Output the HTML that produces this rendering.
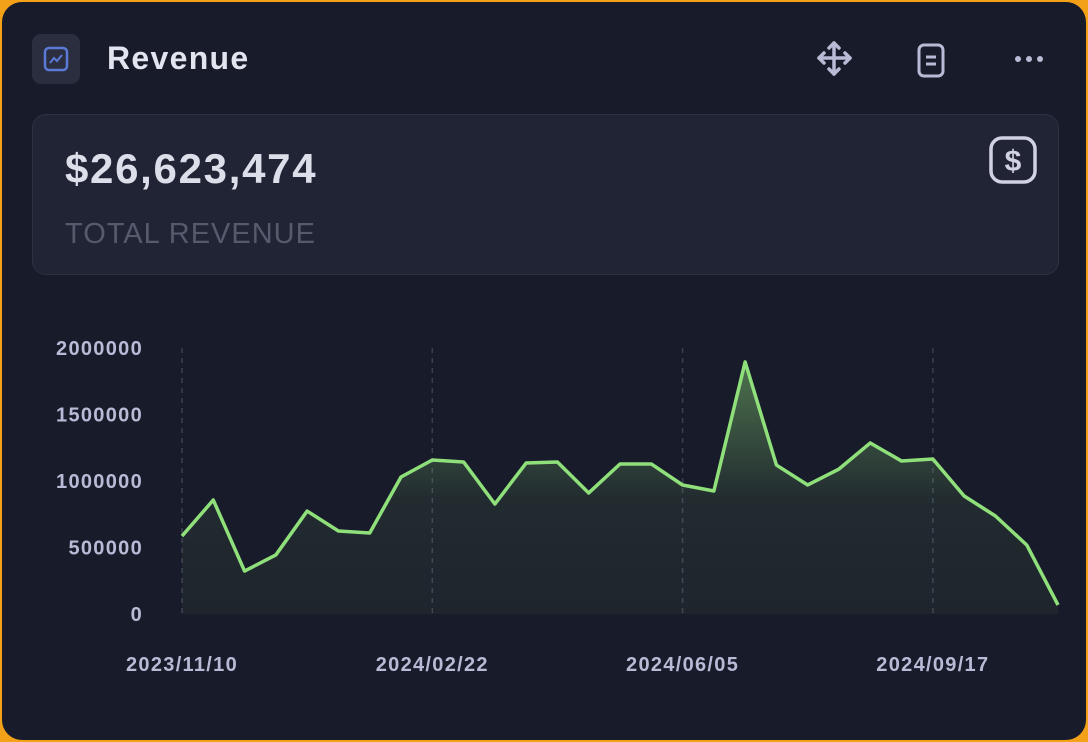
<!DOCTYPE html>
<html><head><meta charset="utf-8"><style>
html,body{margin:0;padding:0;width:1088px;height:742px;overflow:hidden;background:#f4a11a;font-family:"Liberation Sans",sans-serif}
.card{position:absolute;left:2px;top:2px;width:1084px;height:738px;border-radius:20px;background:#181b29;overflow:hidden}
.ic{position:absolute;left:30px;top:32px;width:48px;height:50px;border-radius:9px;background:#2a2e3f}
.title{position:absolute;left:105px;top:38px;font-size:32px;font-weight:bold;color:#e2e4ef;letter-spacing:1.3px}
.kpi{position:absolute;left:30px;top:112px;width:1025px;height:159px;border:1.5px solid #2d3142;border-radius:14px;background:#212435}
.val{position:absolute;left:32px;top:30px;font-size:42px;font-weight:bold;color:#dcdeea;letter-spacing:1.7px}
.lbl{position:absolute;left:32px;top:103px;font-size:29px;color:#565a6d;letter-spacing:1px}
svg text{font-family:"Liberation Sans",sans-serif;font-weight:bold;fill:#b8bad6;font-size:20px;letter-spacing:1.3px}
</style></head><body>
<div class="card">
<div class="ic">
<svg width="48" height="50"><rect x="13" y="14" width="22" height="22" rx="4" fill="none" stroke="#5b7ad8" stroke-width="2.5"/><polyline points="18,29 22,24 25,27 30,21" fill="none" stroke="#5b7ad8" stroke-width="2"/></svg></div>
<div class="title">Revenue</div>
<svg style="position:absolute;left:812px;top:36px" width="40" height="40"><g fill="none" stroke="#b8bad6" stroke-width="3.5" stroke-linecap="round" stroke-linejoin="round"><line x1="20" y1="5" x2="20" y2="36"/><line x1="5" y1="20" x2="36" y2="20"/><polyline points="15,10 20,5 25,10"/><polyline points="15,31 20,36 25,31"/><polyline points="10,15 5,20 10,25"/><polyline points="31,15 36,20 31,25"/></g></svg>
<svg style="position:absolute;left:914px;top:40px" width="30" height="38"><rect x="3" y="3" width="24" height="31" rx="5" fill="none" stroke="#b8bad6" stroke-width="3"/><line x1="10" y1="15" x2="20" y2="15" stroke="#b8bad6" stroke-width="3"/><line x1="10" y1="22" x2="20" y2="22" stroke="#b8bad6" stroke-width="3"/></svg>
<svg style="position:absolute;left:1010px;top:50px" width="36" height="14"><circle cx="6" cy="7" r="3" fill="#b8bad6"/><circle cx="17" cy="7" r="3" fill="#b8bad6"/><circle cx="28" cy="7" r="3" fill="#b8bad6"/></svg>
<div class="kpi">
<div class="val">$26,623,474</div>
<div class="lbl">TOTAL REVENUE</div>
<svg style="position:absolute;left:955px;top:20px" width="52" height="52"><rect x="3" y="3" width="44" height="44" rx="11" fill="none" stroke="#d0d2e2" stroke-width="3.5"/><text x="25" y="36" text-anchor="middle" style="font-size:30px;fill:#d0d2e2;font-weight:bold;letter-spacing:0">$</text></svg>
</div>
<svg id="chart" style="position:absolute;left:-2px;top:-2px" width="1088" height="742">
<defs><linearGradient id="g" x1="0" y1="0" x2="0" y2="1"><stop offset="0" stop-color="#8fe07a" stop-opacity="0.45"/><stop offset="0.55" stop-color="#8fe07a" stop-opacity="0.08"/><stop offset="1" stop-color="#8fe07a" stop-opacity="0.05"/></linearGradient></defs>
</svg>
</div>
<script>
const values=[586000,857000,323000,444000,774000,624000,609000,1030000,1158000,1143000,827000,1135000,1143000,910000,1128000,1128000,970000,925000,1895000,1120000,970000,1090000,1286000,1150000,1165000,887000,737000,519000,68000];
const yTicks=[0,500000,1000000,1500000,2000000];
const xLabels=["2023/11/10","2024/02/22","2024/06/05","2024/09/17"];
const xLabelIdx=[0,8,16,24];
const svg=document.getElementById('chart');
const NS='http://www.w3.org/2000/svg';
const x0=182,x1=1058,y0=614,y1=348;
const X=i=>x0+(x1-x0)*i/(values.length-1);
const Y=v=>y0-(y0-y1)*v/2000000;
function mk(t,a){const e=document.createElementNS(NS,t);for(const k in a)e.setAttribute(k,a[k]);svg.appendChild(e);return e;}
xLabelIdx.forEach((idx,i)=>{
 const l=mk('line',{x1:X(idx),x2:X(idx),y1:y1,y2:y0,stroke:'#3b3f52','stroke-width':1.5,'stroke-dasharray':'5 5'});
 
 
 const t=mk('text',{x:X(idx),y:671,'text-anchor':'middle'});t.textContent=xLabels[i];
 
 
});
yTicks.forEach(v=>{
 const t=mk('text',{x:143,y:Y(v)+7,'text-anchor':'end'});t.textContent=v;
 
 
});
const pts=values.map((v,i)=>X(i)+','+Y(v)).join(' ');
const a=mk('polygon',{points:X(0)+','+y0+' '+pts+' '+X(values.length-1)+','+y0,fill:'url(#g)'});


const p=mk('polyline',{points:pts,fill:'none',stroke:'#8fe07a','stroke-width':3.5,'stroke-linejoin':'round'});


</script>
</body></html>
